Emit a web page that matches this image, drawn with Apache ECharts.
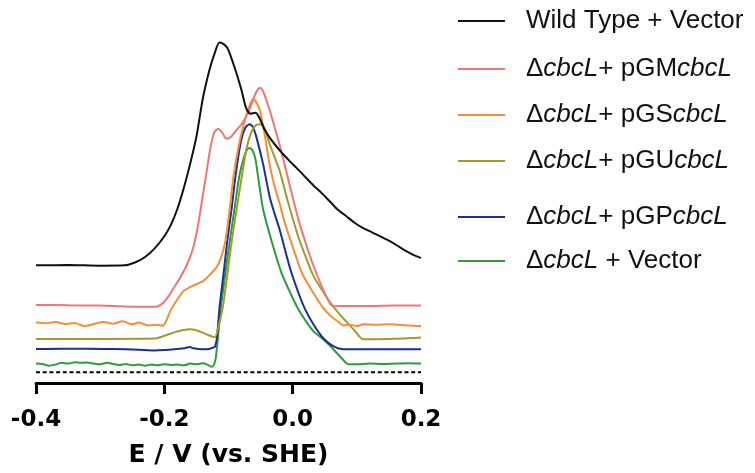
<!DOCTYPE html>
<html>
<head>
<meta charset="utf-8">
<script src="https://cdn.jsdelivr.net/npm/echarts@6/dist/echarts.min.js"></script>
<style>html,body{margin:0;padding:0;background:#fff}#c{width:755px;height:473px}</style>
</head>
<body>
<div id="c"></div>
<script>
// Potential ticks (V vs. SHE)
const xTicks = [-0.4, -0.2, 0.0, 0.2];
const axisTitle = 'E / V (vs. SHE)';
const seriesNames = ['Wild Type + Vector', 'ΔcbcL+ pGMcbcL', 'ΔcbcL+ pGScbcL', 'ΔcbcL+ pGUcbcL', 'ΔcbcL+ pGPcbcL', 'ΔcbcL + Vector'];
const seriesColors = ['#111111', '#ef7676', '#f48f35', '#a09b2c', '#1b2f94', '#2e9c3e'];
const baselineLevel = 3.1;

// [E (V), current (arb. units, offset traces)]
const wildType = [[-0.400,33.9],[-0.350,34.0],[-0.300,33.8],[-0.262,33.9],[-0.245,34.8],[-0.230,36.3],[-0.215,38.8],[-0.200,42.3],[-0.190,45.5],[-0.180,50],[-0.170,56],[-0.160,63],[-0.150,71],[-0.140,82],[-0.130,90],[-0.122,94.8],[-0.114,98.1],[-0.107,97.6],[-0.101,96.3],[-0.091,91.2],[-0.080,84.6],[-0.073,79.5],[-0.066,77.6],[-0.058,77.9],[-0.052,76.5],[-0.045,73.5],[-0.035,70.5],[-0.020,67],[-0.005,64],[0.006,62],[0.020,59.3],[0.032,57],[0.045,54.8],[0.058,52.3],[0.070,50],[0.084,48],[0.097,46.1],[0.110,44.6],[0.123,43.5],[0.136,42.3],[0.150,41],[0.162,39.7],[0.175,38.2],[0.188,36.9],[0.200,36]];
const pGM = [[-0.400,22.5],[-0.350,22.4],[-0.300,22.3],[-0.250,22.0],[-0.215,22.0],[-0.205,22.6],[-0.195,24.6],[-0.185,27.5],[-0.175,30.5],[-0.165,34],[-0.155,39],[-0.148,45],[-0.140,54],[-0.134,61],[-0.128,68],[-0.122,72.3],[-0.116,73.3],[-0.110,72.2],[-0.103,70.4],[-0.096,71],[-0.088,72.8],[-0.078,75],[-0.068,78.5],[-0.060,82.5],[-0.054,84.7],[-0.050,85],[-0.046,84],[-0.040,81],[-0.034,77.5],[-0.027,73],[-0.020,68.4],[-0.010,61],[0.000,53.5],[0.010,46.5],[0.020,40.5],[0.032,34],[0.045,28],[0.055,24],[0.061,22.3],[0.080,22.2],[0.120,22.2],[0.160,22.3],[0.200,22.3]];
const pGS = [[-0.400,17.5],[-0.385,17.2],[-0.370,17.6],[-0.355,17.0],[-0.340,17.3],[-0.325,16.4],[-0.310,17.0],[-0.295,17.6],[-0.280,17.1],[-0.265,17.8],[-0.250,16.9],[-0.240,17.4],[-0.225,16.6],[-0.210,16.8],[-0.203,16.5],[-0.198,17.5],[-0.190,21],[-0.180,24],[-0.170,26.5],[-0.160,27.6],[-0.150,28.5],[-0.140,29.3],[-0.130,31],[-0.124,32.2],[-0.118,33.5],[-0.111,36.5],[-0.105,40.8],[-0.098,50.3],[-0.092,59.8],[-0.083,69.3],[-0.074,76],[-0.067,80],[-0.062,81.8],[-0.058,81.3],[-0.051,78.5],[-0.044,72],[-0.036,63],[-0.028,56.5],[-0.020,51.5],[-0.012,46],[-0.004,41.5],[0.006,36],[0.015,31.5],[0.032,26],[0.048,21.5],[0.060,19.2],[0.070,17.8],[0.079,16.6],[0.090,16.8],[0.100,16.4],[0.110,16.9],[0.130,16.8],[0.150,16.9],[0.170,16.7],[0.190,16.5],[0.200,16.4]];
const pGU = [[-0.400,12.7],[-0.300,12.7],[-0.215,12.8],[-0.200,13.6],[-0.185,14.6],[-0.170,15.3],[-0.160,15.5],[-0.150,15.2],[-0.140,14.5],[-0.130,13.7],[-0.124,13.3],[-0.121,13.2],[-0.116,16],[-0.109,21.7],[-0.102,31],[-0.095,40.8],[-0.087,50.5],[-0.079,59.8],[-0.072,67.5],[-0.065,72],[-0.058,74.2],[-0.051,74.6],[-0.045,73.8],[-0.036,69],[-0.028,65],[-0.020,61],[-0.010,54],[0.000,47.5],[0.010,41.5],[0.020,36.5],[0.032,31],[0.045,27],[0.058,23.3],[0.070,20.5],[0.084,17.6],[0.097,15],[0.110,12.6],[0.130,12.6],[0.150,12.7],[0.170,12.8],[0.190,13.0],[0.200,13.1]];
const pGP = [[-0.400,9.8],[-0.360,9.9],[-0.320,9.9],[-0.280,9.8],[-0.240,9.6],[-0.215,9.4],[-0.200,9.5],[-0.185,9.7],[-0.170,10.0],[-0.160,10.4],[-0.155,10.0],[-0.140,9.7],[-0.130,9.8],[-0.124,10.2],[-0.121,10.5],[-0.118,13],[-0.114,21.7],[-0.108,31],[-0.102,40.8],[-0.095,50.5],[-0.089,59.8],[-0.081,69.3],[-0.074,73.5],[-0.067,74.6],[-0.062,73.8],[-0.056,70.5],[-0.046,63],[-0.035,53],[-0.020,44],[-0.004,33],[0.010,25.5],[0.020,21],[0.032,17],[0.045,13.5],[0.056,11.5],[0.068,10.2],[0.076,9.8],[0.100,9.7],[0.150,9.7],[0.200,9.7]];
const vectorOnly = [[-0.400,5.6],[-0.390,5.5],[-0.380,5.0],[-0.370,5.3],[-0.360,5.8],[-0.350,5.6],[-0.340,6.0],[-0.330,5.8],[-0.320,5.9],[-0.310,5.6],[-0.300,5.4],[-0.290,5.8],[-0.280,5.5],[-0.270,5.2],[-0.260,5.5],[-0.250,5.1],[-0.240,5.3],[-0.230,5.0],[-0.220,5.3],[-0.210,5.1],[-0.200,5.4],[-0.190,5.2],[-0.180,5.3],[-0.170,5.1],[-0.160,5.6],[-0.150,5.4],[-0.140,5.7],[-0.133,5.3],[-0.127,4.7],[-0.123,5.2],[-0.120,7],[-0.116,14],[-0.112,21.7],[-0.105,31.5],[-0.098,40.8],[-0.090,51],[-0.083,59.8],[-0.076,65],[-0.071,67.2],[-0.067,67.7],[-0.062,66.8],[-0.058,64.5],[-0.052,57],[-0.046,50],[-0.033,41],[-0.017,31.5],[0.000,24.5],[0.009,21.2],[0.020,18],[0.032,15],[0.045,13],[0.058,10.8],[0.068,8.8],[0.076,7.2],[0.082,6],[0.087,5.4],[0.100,5.4],[0.120,5.6],[0.140,5.5],[0.160,5.6],[0.180,5.7],[0.200,5.6]];

const traces = [wildType, pGM, pGS, pGU, pGP, vectorOnly];
const legendCenters = [23, 71, 117, 163, 219, 263];

function richName(n) {
  if (n.indexOf('Δ') !== 0) return '{s|}{t|' + n + '}';
  const rest = n.slice(1);
  const m = rest.match(/^(cbcL)(.*?)(cbcL)?$/);
  let out = '{s|}{t|Δ}{i|' + m[1] + '}{t|' + m[2] + '}';
  if (m[3]) out += '{i|' + m[3] + '}';
  return out;
}

const chart = echarts.init(document.getElementById('c'), null, {renderer: 'canvas'});
const series = traces.map((d, k) => ({
  name: seriesNames[k], type: 'line', data: d, symbol: 'none', smooth: 0.25,
  lineStyle: {color: seriesColors[k], width: 2}, itemStyle: {color: seriesColors[k]},
  z: 10 - k, animation: false
}));
series.push({
  name: 'baseline', type: 'line', symbol: 'none', animation: false,
  data: [[xTicks[0], baselineLevel], [xTicks[xTicks.length - 1], baselineLevel]],
  lineStyle: {color: '#000', width: 2, type: [4, 2.7]}
});

const rich = {
  s: {width: 16, fontSize: 26, lineHeight: 30},
  t: {fontFamily: 'Liberation Sans, Arial, sans-serif', fontSize: 26, lineHeight: 30, color: '#111'},
  i: {fontFamily: 'Liberation Sans, Arial, sans-serif', fontSize: 26, fontStyle: 'italic', lineHeight: 30, color: '#111'}
};
const legends = seriesNames.map((n, k) => ({
  data: [n], left: 458, top: legendCenters[k] - 15, padding: 0,
  icon: 'rect', itemWidth: 47, itemHeight: 2, selectedMode: false,
  formatter: richName, textStyle: {rich: rich}
}));

chart.setOption({
  animation: false,
  legend: legends,
  grid: {left: 36, right: 334, top: 36, bottom: 87, containLabel: false},
  xAxis: {
    type: 'value', min: xTicks[0], max: xTicks[xTicks.length - 1], interval: 0.2,
    name: axisTitle, nameLocation: 'middle', nameGap: 60,
    nameTextStyle: {fontFamily: 'DejaVu Sans', fontWeight: 'bold', fontSize: 25, color: '#000'},
    axisLine: {lineStyle: {color: '#000', width: 3}},
    axisTick: {length: 11, lineStyle: {color: '#000', width: 3}},
    axisLabel: {fontFamily: 'DejaVu Sans', fontWeight: 'bold', fontSize: 23, color: '#000', margin: 26,
      formatter: v => v.toFixed(1)},
    splitLine: {show: false}
  },
  yAxis: {type: 'value', min: 0, max: 100, show: false, splitLine: {show: false}},
  series: series
});
</script>
</body>
</html>
